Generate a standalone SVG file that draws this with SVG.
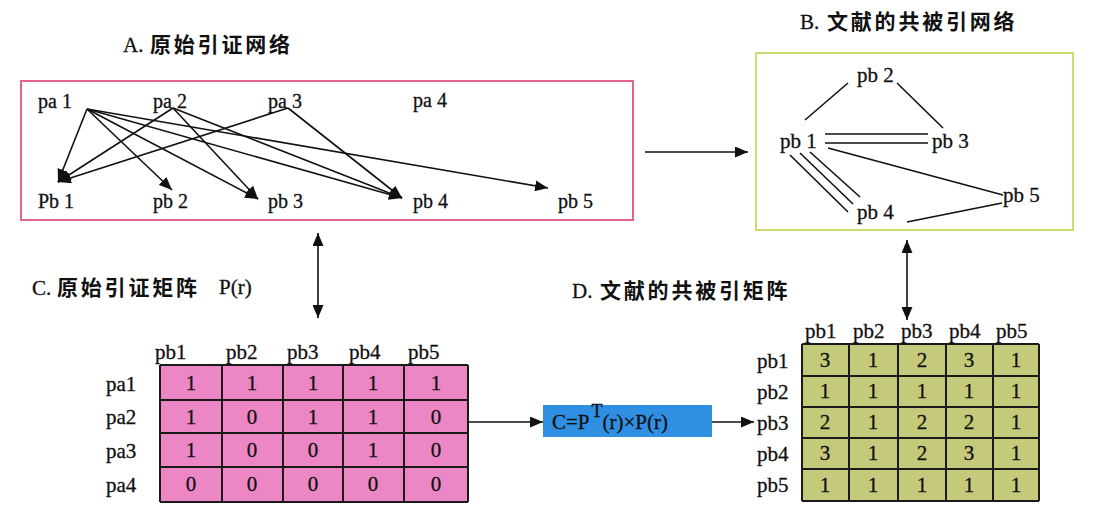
<svg xmlns="http://www.w3.org/2000/svg" width="1102" height="526" viewBox="0 0 1102 526">
<defs>
<style>
.t{font-family:"Liberation Serif","Times New Roman",serif;fill:#111;stroke:#111;stroke-width:0.3;}
.cn{font-family:"Noto Sans CJK SC",sans-serif;font-weight:bold;font-size:21px;letter-spacing:2.8px;fill:#111;}
.lat{font-size:21px;}
.nd{font-size:20px;}
.nb{font-size:21px;}
.m{font-size:21px;}
.c{font-size:21px;text-anchor:middle;}
.e{stroke:#111;stroke-width:1.6;fill:none;}
.g{stroke:#1a1a1a;stroke-width:2;}
</style>
<marker id="ah" markerUnits="userSpaceOnUse" markerWidth="14" markerHeight="11" refX="13" refY="5.5" orient="auto-start-reverse">
<path d="M0,0 L13,5.5 L0,11 z" fill="#111"/>
</marker>
</defs>
<rect width="1102" height="526" fill="#fff"/>

<!-- Titles -->
<g id="titles">
<text class="t lat" x="123" y="52">A.</text><text class="cn" x="150" y="52">原始引证网络</text>
<text class="t lat" x="800" y="29">B.</text><text class="cn" x="827" y="29">文献的共被引网络</text>
<text class="t lat" x="32" y="295">C.</text><text class="cn" x="57" y="295">原始引证矩阵</text><text class="t lat" x="219" y="294">P(r)</text>
<text class="t lat" x="572" y="298">D.</text><text class="cn" x="600" y="298">文献的共被引矩阵</text>
</g>

<!-- Box A -->
<g id="boxA">
<rect x="21" y="81" width="612" height="139" fill="none" stroke="#e2648e" stroke-width="2"/>
<text class="t nd" x="38" y="108">pa 1</text>
<text class="t nd" x="153" y="108">pa 2</text>
<text class="t nd" x="268" y="108">pa 3</text>
<text class="t nd" x="413" y="107">pa 4</text>
<text class="t nd" x="38" y="208">Pb 1</text>
<text class="t nd" x="153" y="208">pb 2</text>
<text class="t nd" x="268" y="208">pb 3</text>
<text class="t nd" x="413" y="208">pb 4</text>
<text class="t nd" x="558" y="208">pb 5</text>
</g>

<!-- Box B -->
<g id="boxB">
<rect x="756" y="53" width="317" height="177" fill="none" stroke="#d2da6e" stroke-width="2"/>
<text class="t nb" x="857" y="82">pb 2</text>
<text class="t nb" x="780" y="148">pb 1</text>
<text class="t nb" x="932" y="148">pb 3</text>
<text class="t nb" x="1003" y="202">pb 5</text>
<text class="t nb" x="857" y="219">pb 4</text>
</g>

<!-- Formula -->
<g id="formula">
<rect x="543" y="405" width="169" height="32" fill="#2f8fe2"/>
<text class="t" font-size="21" x="552" y="429">C=P<tspan font-size="18" dx="2" dy="-12">T</tspan><tspan dy="12">(r)×P(r)</tspan></text>
</g>

<!-- Matrix C -->
<g id="matrixC">
<rect x="160" y="365" width="308" height="137" fill="#ec86c4"/>
<g class="g">
<line x1="160" y1="365" x2="468" y2="365"/><line x1="160" y1="400" x2="468" y2="400"/><line x1="160" y1="433" x2="468" y2="433"/><line x1="160" y1="467" x2="468" y2="467"/><line x1="160" y1="502" x2="468" y2="502"/>
<line x1="160" y1="365" x2="160" y2="502"/><line x1="222" y1="365" x2="222" y2="502"/><line x1="283" y1="365" x2="283" y2="502"/><line x1="343" y1="365" x2="343" y2="502"/><line x1="404" y1="365" x2="404" y2="502"/><line x1="468" y1="365" x2="468" y2="502"/>
</g>
<text class="t m" x="155" y="359">pb1</text><text class="t m" x="226" y="359">pb2</text><text class="t m" x="287" y="359">pb3</text><text class="t m" x="349" y="359">pb4</text><text class="t m" x="408" y="359">pb5</text>
<text class="t m" x="106" y="391">pa1</text><text class="t m" x="106" y="424">pa2</text><text class="t m" x="106" y="458">pa3</text><text class="t m" x="106" y="492">pa4</text>
<g class="t c">
<text x="191" y="390">1</text><text x="252" y="390">1</text><text x="313" y="390">1</text><text x="373" y="390">1</text><text x="436" y="390">1</text>
<text x="191" y="424">1</text><text x="252" y="424">0</text><text x="313" y="424">1</text><text x="373" y="424">1</text><text x="436" y="424">0</text>
<text x="191" y="457">1</text><text x="252" y="457">0</text><text x="313" y="457">0</text><text x="373" y="457">1</text><text x="436" y="457">0</text>
<text x="191" y="491">0</text><text x="252" y="491">0</text><text x="313" y="491">0</text><text x="373" y="491">0</text><text x="436" y="491">0</text>
</g>
</g>

<!-- Matrix D -->
<g id="matrixD">
<rect x="802" y="344" width="237" height="157" fill="#c5c97a"/>
<g class="g">
<line x1="802" y1="344" x2="1039" y2="344"/><line x1="802" y1="376" x2="1039" y2="376"/><line x1="802" y1="407" x2="1039" y2="407"/><line x1="802" y1="438" x2="1039" y2="438"/><line x1="802" y1="469" x2="1039" y2="469"/><line x1="802" y1="501" x2="1039" y2="501"/>
<line x1="802" y1="344" x2="802" y2="501"/><line x1="849" y1="344" x2="849" y2="501"/><line x1="898" y1="344" x2="898" y2="501"/><line x1="946" y1="344" x2="946" y2="501"/><line x1="993" y1="344" x2="993" y2="501"/><line x1="1039" y1="344" x2="1039" y2="501"/>
</g>
<text class="t m" x="805" y="338">pb1</text><text class="t m" x="853" y="338">pb2</text><text class="t m" x="901" y="338">pb3</text><text class="t m" x="949" y="338">pb4</text><text class="t m" x="996" y="338">pb5</text>
<text class="t m" x="757" y="368">pb1</text><text class="t m" x="757" y="399">pb2</text><text class="t m" x="757" y="430">pb3</text><text class="t m" x="757" y="461">pb4</text><text class="t m" x="757" y="492">pb5</text>
<g class="t c">
<text x="825" y="367">3</text><text x="873" y="367">1</text><text x="922" y="367">2</text><text x="969" y="367">3</text><text x="1016" y="367">1</text>
<text x="825" y="398">1</text><text x="873" y="398">1</text><text x="922" y="398">1</text><text x="969" y="398">1</text><text x="1016" y="398">1</text>
<text x="825" y="429">2</text><text x="873" y="429">1</text><text x="922" y="429">2</text><text x="969" y="429">2</text><text x="1016" y="429">1</text>
<text x="825" y="460">3</text><text x="873" y="460">1</text><text x="922" y="460">2</text><text x="969" y="460">3</text><text x="1016" y="460">1</text>
<text x="825" y="492">1</text><text x="873" y="492">1</text><text x="922" y="492">1</text><text x="969" y="492">1</text><text x="1016" y="492">1</text>
</g>
</g>

<!-- Connectors -->
<g id="connectors">
<g class="e" marker-end="url(#ah)">
<line x1="87" y1="109" x2="58" y2="182"/>
<line x1="87" y1="109" x2="172" y2="190"/>
<line x1="87" y1="109" x2="258" y2="199"/>
<line x1="87" y1="109" x2="402" y2="198"/>
<line x1="87" y1="109" x2="548" y2="188"/>
<line x1="173" y1="108" x2="58" y2="182"/>
<line x1="173" y1="108" x2="258" y2="199"/>
<line x1="173" y1="108" x2="402" y2="198"/>
<line x1="288" y1="108" x2="58" y2="182"/>
<line x1="288" y1="108" x2="402" y2="198"/>
<line x1="645" y1="152" x2="748" y2="152"/>
<line x1="468" y1="422" x2="543" y2="422"/>
<line x1="712" y1="422" x2="754" y2="422"/>
</g>
<g class="e" marker-start="url(#ah)" marker-end="url(#ah)">
<line x1="318" y1="233" x2="318" y2="318"/>
<line x1="907" y1="240" x2="907" y2="320"/>
</g>
<g class="e">
<line x1="805" y1="120" x2="848" y2="83"/>
<line x1="897" y1="83" x2="943" y2="128"/>
<line x1="825" y1="134" x2="928" y2="134"/>
<line x1="825" y1="143" x2="928" y2="143"/>
<line x1="790" y1="155" x2="848" y2="212"/>
<line x1="800" y1="153" x2="853" y2="204"/>
<line x1="810" y1="152" x2="860" y2="197"/>
<line x1="828" y1="148" x2="1003" y2="195"/>
<line x1="907" y1="222" x2="1002" y2="203"/>
</g>
</g>
</svg>
